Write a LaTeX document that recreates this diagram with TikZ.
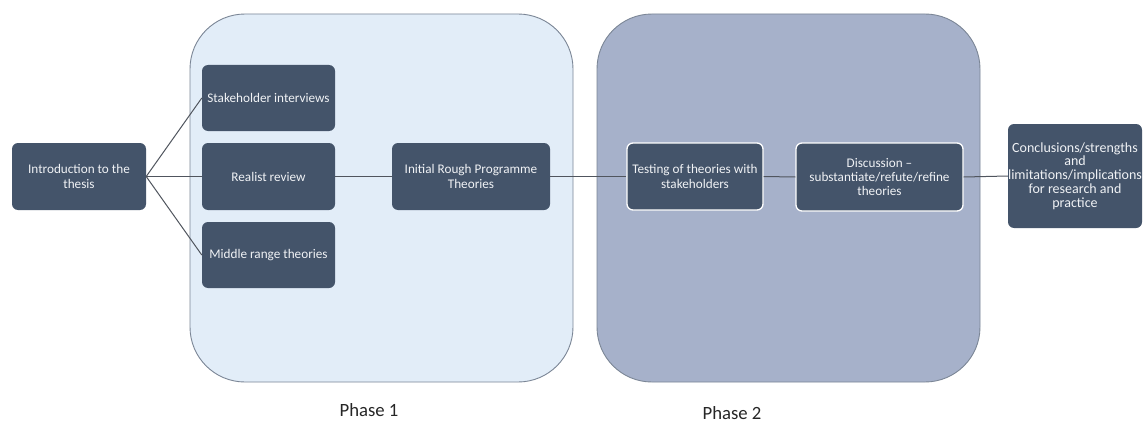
\documentclass[tikz,border=0pt]{standalone}
\usepackage{fontspec}
\setmainfont{Carlito}
\begin{document}
\begin{tikzpicture}[x=1pt,y=-1pt,
  phaseone/.style={draw=phaseedge,line width=0.9pt,fill=phaseonefill,rounded corners=55pt},
  phasetwo/.style={draw=phaseedge,line width=0.9pt,fill=phasetwofill,rounded corners=55pt},
  stepbox/.style={fill=boxfill,rounded corners=6pt,text=boxtext,align=center,
    font=\fontsize{13.2}{14.2}\selectfont,inner sep=0pt},
  litbox/.style={stepbox,draw=white,line width=1.3pt},
  link/.style={draw=linkgray,line width=1pt},
  phaselabel/.style={font=\fontsize{18.7}{21}\selectfont,text=black!85}]
\definecolor{boxfill}{HTML}{44546A}
\definecolor{boxtext}{HTML}{F0F2F5}
\definecolor{phaseonefill}{HTML}{E2EDF8}
\definecolor{phasetwofill}{HTML}{A6B1CA}
\definecolor{phaseedge}{HTML}{7B8696}
\definecolor{linkgray}{HTML}{50555E}
\useasboundingbox (0,0) rectangle (1143,428);
\fill[white] (0,0) rectangle (1143,428);

% phase panels
\path[phaseone] (190,14) rectangle (573,382);
\path[phasetwo] (597,14) rectangle (980,382);

% step boxes
\node[stepbox,minimum width=134pt,minimum height=67pt,font=\fontsize{13.2}{15}\selectfont] (intro) at (79,176.5) {Introduction to the\\thesis};
\node[stepbox,minimum width=133pt,minimum height=66pt] (stake) at (268.5,98) {Stakeholder interviews};
\node[stepbox,minimum width=133pt,minimum height=67pt] (realist) at (268.5,176.5) {Realist review};
\node[stepbox,minimum width=133pt,minimum height=66pt] (middle) at (268.5,255) {Middle range theories};
\node[stepbox,minimum width=158pt,minimum height=67pt] (initial) at (471,176.5) {Initial Rough Programme\\Theories};
\node[litbox,minimum width=136pt,minimum height=67pt] (testing) at (695,176.5) {Testing of theories with\\stakeholders};
\node[litbox,minimum width=167pt,minimum height=68pt] (discuss) at (879.5,177) {Discussion --\\substantiate/refute/refine\\theories};
\node[stepbox,minimum width=134pt,minimum height=104pt,font=\fontsize{14}{13.8}\selectfont] (concl) at (1075,176) {Conclusions/strengths\\and\\limitations/implications\\for research and\\practice};

% connectors
\draw[link] (intro.east) -- (stake.west);
\draw[link] (intro.east) -- (realist.west);
\draw[link] (intro.east) -- (middle.west);
\draw[link] (realist.east) -- (initial.west);
\draw[link] (initial.east) -- (testing.west);
\draw[link] (testing.east) -- (discuss.west);
\draw[link] (discuss.east) -- (concl.west);

% phase captions
\node[phaselabel] (p1) at (369,410) {Phase 1};
\node[phaselabel] (p2) at (732,413) {Phase 2};
\end{tikzpicture}
\end{document}
